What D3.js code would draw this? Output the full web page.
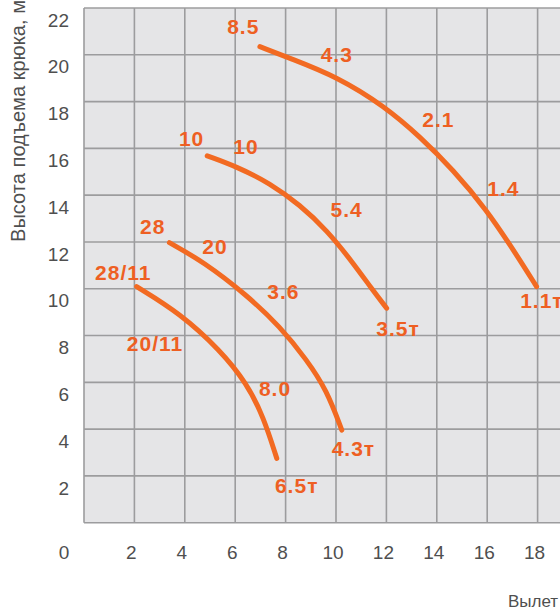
<!DOCTYPE html>
<html><head><meta charset="utf-8">
<script src="https://cdn.jsdelivr.net/npm/d3@7"></script>
<style>
html,body{margin:0;padding:0;background:#fff;overflow:hidden;}
svg{display:block;}
</style></head>
<body>
<script>
// ---- data ----
const xTicks = [0, 2, 4, 6, 8, 10, 12, 14, 16, 18];
const yTicks = [2, 4, 6, 8, 10, 12, 14, 16, 18, 20, 22];
const yTitle = "Высота подъема крюка, м";
const xTitle = "Вылет стрелы, м";

// boom curves: [outreach m, hook height m]
const curve1 = [[6.98,20.35],[8.17,19.85],[10.03,19.07],[11.94,17.79],[13.33,16.5],[14.65,15.08],[15.98,13.37],[17.04,11.66],[17.96,10.09]];
const curve2 = [[4.89,15.68],[6.06,15.22],[7.38,14.51],[8.57,13.58],[9.63,12.51],[10.69,11.09],[11.45,9.95],[12.01,9.17]];
const curve3 = [[3.39,11.97],[4.73,11.16],[6.46,9.73],[7.78,8.38],[8.84,6.96],[9.63,5.67],[10.23,3.96]];
const curve4 = [[2.09,10.09],[3.81,8.95],[5.4,7.38],[6.46,5.96],[7.12,4.53],[7.65,2.75]];
const curves = [curve1, curve2, curve3, curve4];

// load labels: [text, outreach, height]
const labels1 = [["8.5",6.32,21.21],["4.3",10.03,20.0],["2.1",14.06,17.22],["1.4",16.64,14.3],["1.1т",18.17,9.51]];
const labels2 = [["10",4.27,16.43],["10",6.43,16.08],["5.4",10.42,13.4],["3.5т",12.46,8.32]];
const labels3 = [["28",2.73,12.68],["20",5.2,11.8],["3.6",7.91,9.88],["4.3т",10.69,3.18]];
const labels4 = [["28/11",1.56,10.69],["20/11",2.82,7.67],["8.0",7.58,5.75],["6.5т",8.44,1.61]];
const labelSets = [labels1, labels2, labels3, labels4];

// ---- drawing ----
const W = 560, H = 609;
const svg = d3.select("body").append("svg").attr("width", W).attr("height", H);

const x = d3.scaleLinear().domain([0, 20]).range([84, 588]);
const y = d3.scaleLinear().domain([0, 22]).range([522.7, 8]);

const gridColor = "#9c9c9e";
const bg = "#e5e5e7";
const orange = "#f26a22";
const labelColor = "#ee5f23";

svg.append("rect")
  .attr("x", x(0)).attr("y", y(22))
  .attr("width", x(20) - x(0)).attr("height", y(0) - y(22))
  .attr("fill", bg);

// grid lines
const gridX = d3.range(0, 21, 2);
const gridY = d3.range(0, 23, 2);
svg.append("g").selectAll("line").data(gridX).join("line")
  .attr("x1", d => x(d)).attr("x2", d => x(d))
  .attr("y1", y(22)).attr("y2", y(0))
  .attr("stroke", gridColor).attr("stroke-width", 1.6);
svg.append("g").selectAll("line").data(gridY).join("line")
  .attr("x1", x(0)).attr("x2", x(20))
  .attr("y1", d => y(d)).attr("y2", d => y(d))
  .attr("stroke", gridColor).attr("stroke-width", 1.6);

// tick labels
const tickFont = "'Liberation Sans', Arial, sans-serif";
svg.append("g").selectAll("text").data(yTicks).join("text")
  .attr("x", 69).attr("y", d => y(d) + 12).attr("dy", "0.35em")
  .attr("text-anchor", "end")
  .attr("font-family", tickFont).attr("font-size", 19)
  .attr("fill", "#4f4f4f")
  .text(d => d);
svg.append("g").selectAll("text").data(xTicks).join("text")
  .attr("x", d => d === 0 ? x(d) - 20 : x(d) - 3).attr("y", 552).attr("dy", "0.35em")
  .attr("text-anchor", "middle")
  .attr("font-family", tickFont).attr("font-size", 19)
  .attr("fill", "#4f4f4f")
  .text(d => d);

// axis titles
svg.append("text")
  .attr("transform", "translate(25,242) rotate(-90)")
  .attr("font-family", tickFont).attr("font-size", 21)
  .attr("textLength", 242).attr("lengthAdjust", "spacingAndGlyphs")
  .attr("fill", "#4f4f4f")
  .text(yTitle);
svg.append("text")
  .attr("x", 508).attr("y", 607)
  .attr("font-family", tickFont).attr("font-size", 17)
  .attr("fill", "#4f4f4f")
  .text(xTitle);

// curves
const line = d3.line().x(d => x(d[0])).y(d => y(d[1])).curve(d3.curveBasis);
svg.append("g").selectAll("path").data(curves).join("path")
  .attr("d", line)
  .attr("fill", "none")
  .attr("stroke", orange)
  .attr("stroke-width", 5)
  .attr("stroke-linecap", "round")
  .attr("stroke-linejoin", "round");

// labels
svg.append("g").selectAll("text").data(labelSets.flat()).join("text")
  .attr("x", d => x(d[1])).attr("y", d => y(d[2])).attr("dy", "0.36em")
  .attr("text-anchor", "middle")
  .attr("font-family", tickFont).attr("font-weight", "bold")
  .attr("font-size", 21).attr("letter-spacing", 1)
  .attr("fill", labelColor)
  .text(d => d[0]);
</script>
</body></html>
